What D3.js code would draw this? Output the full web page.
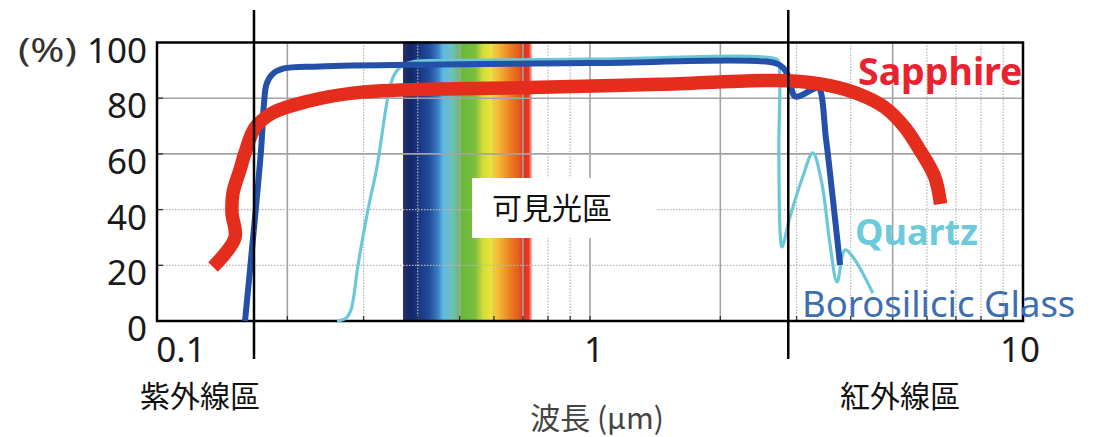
<!DOCTYPE html>
<html><head><meta charset="utf-8">
<script src="https://cdn.jsdelivr.net/npm/d3@7"></script>
<style>body{margin:0;background:#fff;overflow:hidden}</style>
</head><body><svg id="c" width="1099" height="437"></svg>
<script>
// ---- data ----
const sapphireWl = [0.1347,0.1514,0.149,0.1498,0.1555,0.1597,0.1684,0.1852,0.2218,0.2896,0.45,0.7257,1.451,2.88,3.58,4.2,4.8,5.34,5.77,6.25,6.45];
const sapphireT  = [19.4,29.9,38.8,46,54.3,60.4,69.4,74.8,78.8,82,83.3,83.8,85,86.3,84.5,81.3,76.6,69.4,61.5,51.8,42];
const glassWl = [0.1597,0.1739,0.1767,0.179,0.1843,0.1954,0.2379,0.45,1,2.68,2.79,2.88,2.98,3.26,3.37,3.51,3.64,3.78];
const glassT  = [0,61.5,78.4,85,88.5,90.6,91.4,92.1,92.6,92.6,91,87.4,80.6,83.1,83.8,65,43.5,20.1];
const quartzWl = [0.2604,0.2729,0.2805,0.2912,0.3071,0.3222,0.3416,0.352,0.3683,0.394,0.45,1,2.70,2.73,2.73,2.75,2.776,2.897,3.10,3.27,3.43,3.58,3.72,3.88,4.03,4.25,4.5];
const quartzT  = [0,1,4,20,40,55.4,80.6,88,91.7,93.2,93.5,94,94,92.8,61.5,31,26.6,37.4,51.8,60.4,49.6,28,14,25.5,23.4,17.6,10];
const xTickValues = [0.1, 1, 10];
const xTickLabels = ["0.1", "1", "10"];
const yTickValues = [0, 20, 40, 60, 80, 100];
const xGridSolid = [0.2, 0.5, 0.7, 1, 2, 5];
const xGridDotted = [0.3, 0.4, 0.6, 0.8, 0.9, 3, 4, 6, 7, 8, 9];
const yGridSolid = [60, 80];
const yGridDotted = [20, 40];
const visibleRange = [0.370, 0.735];
const regionBounds = [0.1675, 2.87];
const seriesNames = ["Sapphire", "Quartz", "Borosilicic Glass"];

// ---- layout ----
const svg = d3.select("#c");
const L = 157, R = 1023, T = 42.5, B = 321;
const x = d3.scaleLog().domain([0.1, 10]).range([L, R]);
const y = d3.scaleLinear().domain([0, 100]).range([B, T]);

// spectrum gradient
const defs = svg.append("defs");
const grad = defs.append("linearGradient").attr("id", "spec").attr("x1", "0").attr("x2", "1").attr("y1", "0").attr("y2", "0");
[[0,"#2c3060"],[0.06,"#13276e"],[0.2,"#1f4b9c"],[0.27,"#3b7cc2"],[0.31,"#5cb9e2"],[0.38,"#6fc0bc"],[0.46,"#69b83c"],[0.56,"#7cbf3c"],[0.62,"#cfdc3c"],[0.68,"#eee236"],[0.75,"#f3b232"],[0.83,"#ea7f22"],[0.89,"#e4601f"],[0.94,"#e3301f"],[0.975,"#e83a2a"],[1,"#fbd0c8"]]
  .forEach(([o,c]) => grad.append("stop").attr("offset", o).attr("stop-color", c));

svg.append("rect").attr("x", x(visibleRange[0])).attr("width", x(visibleRange[1]) - x(visibleRange[0]))
  .attr("y", y(100) - 1).attr("height", y(0) - y(100) + 1).attr("fill", "url(#spec)");

// grid
const g = svg.append("g");
g.selectAll(".gxs").data(xGridSolid).join("line").attr("x1", d => x(d)).attr("x2", d => x(d))
  .attr("y1", T).attr("y2", B).attr("stroke", "#a3a3a3").attr("stroke-width", 1.6);
g.selectAll(".gxd").data(xGridDotted).join("line").attr("x1", d => x(d)).attr("x2", d => x(d))
  .attr("y1", T).attr("y2", B).attr("stroke", "#b5b5b5").attr("stroke-width", 1.2).attr("stroke-dasharray", "1.5,1.5");
g.selectAll(".gys").data(yGridSolid).join("line").attr("y1", d => y(d)).attr("y2", d => y(d))
  .attr("x1", L).attr("x2", R).attr("stroke", "#a3a3a3").attr("stroke-width", 1.6);
g.selectAll(".gyd").data(yGridDotted).join("line").attr("y1", d => y(d)).attr("y2", d => y(d))
  .attr("x1", L).attr("x2", R).attr("stroke", "#b5b5b5").attr("stroke-width", 1.2).attr("stroke-dasharray", "1.5,1.5");
// small ticks
g.selectAll(".tx").data(xGridSolid.concat(xGridDotted)).join("line").attr("x1", d => x(d)).attr("x2", d => x(d))
  .attr("y1", B - 5).attr("y2", B).attr("stroke", "#333").attr("stroke-width", 1.3);
g.selectAll(".ty").data([20, 40, 60, 80]).join("line").attr("y1", d => y(d)).attr("y2", d => y(d))
  .attr("x1", L).attr("x2", L + 6).attr("stroke", "#333").attr("stroke-width", 1.3);

// visible-light label box
svg.append("rect").attr("x", 472).attr("y", 178).attr("width", 184).attr("height", 60).attr("fill", "#fff");
svg.append("text").attr("x", 492).attr("y", 219).attr("font-family", "Noto Sans CJK JP").attr("font-size", 30)
  .attr("fill", "#111").text("可見光區");

// frame
svg.append("rect").attr("x", L).attr("y", T).attr("width", R - L).attr("height", B - T)
  .attr("fill", "none").attr("stroke", "#000").attr("stroke-width", 2.5);

// curves
const line = d3.line().x(d => x(d[0])).y(d => y(d[1])).curve(d3.curveCatmullRom.alpha(0.5));
const zip = (a, b) => a.map((v, i) => [v, b[i]]);
svg.append("path").datum(zip(quartzWl, quartzT)).attr("d", line).attr("fill", "none")
  .attr("stroke", "#6cc8d8").attr("stroke-width", 3.2);
svg.append("path").datum(zip(glassWl, glassT)).attr("d", line).attr("fill", "none")
  .attr("stroke", "#2350a8").attr("stroke-width", 6).attr("stroke-linejoin", "round");
svg.append("path").datum(zip(sapphireWl, sapphireT)).attr("d", line).attr("fill", "none")
  .attr("stroke", "#e52d1e").attr("stroke-width", 13.5).attr("stroke-linejoin", "round");

// region boundary lines
svg.selectAll(".rb").data(regionBounds).join("line").attr("x1", d => x(d)).attr("x2", d => x(d))
  .attr("y1", 10).attr("y2", 359).attr("stroke", "#000").attr("stroke-width", 2.5);

// axis labels
const tf = "Noto Sans";
svg.selectAll(".yl").data(yTickValues).join("text").attr("x", 147).attr("y", d => y(d) + 20)
  .attr("text-anchor", "end").attr("font-family", tf).attr("font-size", 35).attr("fill", "#1a1a1a").text(d => d);
svg.append("text").attr("x", 18).attr("y", 62).attr("font-family", tf).attr("font-size", 33)
  .attr("textLength", 59).attr("lengthAdjust", "spacingAndGlyphs").attr("fill", "#333").text("(%)");
const xOff = [24, 4, -3];
svg.selectAll(".xl").data(xTickValues).join("text").attr("x", (d, i) => x(d) + xOff[i]).attr("y", 362)
  .attr("text-anchor", "middle").attr("font-family", tf).attr("font-size", 35).attr("fill", "#1a1a1a").text((d, i) => xTickLabels[i]);

const cjk = "Noto Sans CJK JP";
svg.append("text").attr("x", 200).attr("y", 407).attr("text-anchor", "middle").attr("font-family", cjk).attr("font-size", 30).attr("fill", "#111").text("紫外線區");
svg.append("text").attr("x", 900).attr("y", 407).attr("text-anchor", "middle").attr("font-family", cjk).attr("font-size", 30).attr("fill", "#111").text("紅外線區");
svg.append("text").attr("x", 597).attr("y", 429).attr("text-anchor", "middle").attr("font-family", cjk).attr("font-size", 30).attr("fill", "#444").text("波長 (μm)");

// series labels
svg.append("text").attr("x", 858).attr("y", 85).attr("font-family", tf).attr("font-weight", "bold").attr("font-size", 37.5).attr("fill", "#e8222e").text(seriesNames[0]);
svg.append("text").attr("x", 855).attr("y", 245).attr("font-family", tf).attr("font-weight", "bold").attr("font-size", 36).attr("fill", "#6ccbdb").text(seriesNames[1]);
svg.append("text").attr("x", 802).attr("y", 317).attr("font-family", tf).attr("font-size", 36.5).attr("fill", "#3d6fb0").text(seriesNames[2]);
</script></body></html>
